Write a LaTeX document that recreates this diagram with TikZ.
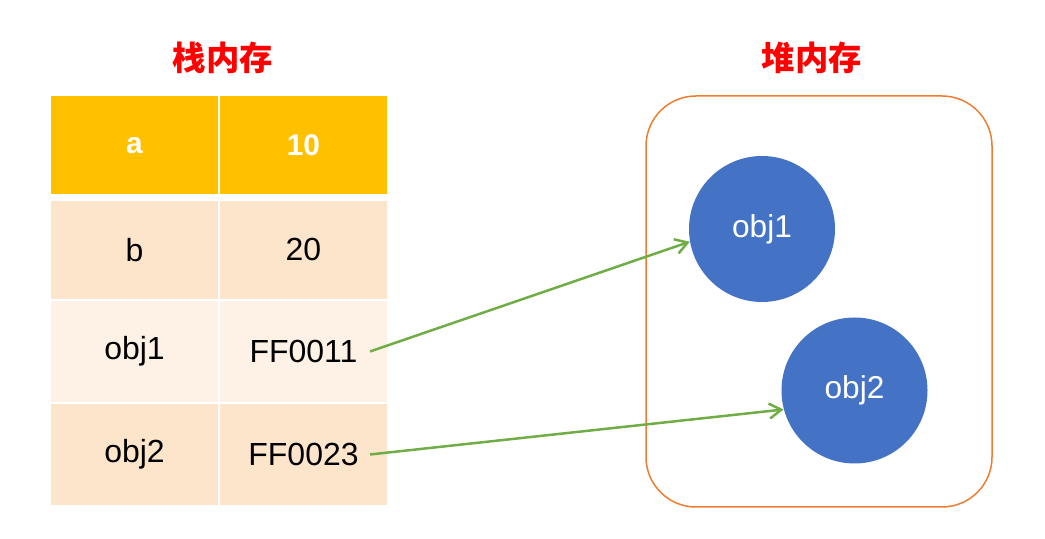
\documentclass[tikz,border=0pt]{standalone}
\usepackage{fontspec}
\setmainfont{Liberation Sans}
\newfontfamily\cjk{Noto Sans CJK SC}
\usetikzlibrary{arrows.meta}
\definecolor{gold}{HTML}{FFC000}
\definecolor{peach}{HTML}{FDE5CC}
\definecolor{cream}{HTML}{FEF2E6}
\definecolor{heapline}{HTML}{ED7D31}
\definecolor{objblue}{HTML}{4472C4}
\definecolor{refgreen}{HTML}{70AD47}

\begin{document}
\begin{tikzpicture}[
        cell/.style={draw=white, line width=0.04cm, minimum width=3.38cm, inner sep=0, font=\fontsize{18.2}{22}\selectfont},
        title/.style={red, font=\cjk\bfseries\fontsize{19}{23}\selectfont},
        obj/.style={circle, fill=objblue, text=white, minimum size=2.92cm, inner sep=0, font=\fontsize{18}{22}\selectfont},
        ref/.style={refgreen, line width=0.05cm, -{Straight Barb[length=0.24cm,width=0.3cm]}}
    ]
    \useasboundingbox (0,0) rectangle (20.9,10.78);

    % stack
    \node[title] (stacktitle) at (4.46,9.62) {栈内存};
    \node[cell, fill=gold, minimum height=2cm, text=white, font=\bfseries\fontsize{17}{20}\selectfont] (ka) at (2.69,7.87) {a};
    \node[cell, fill=gold, minimum height=2cm, text=white, font=\bfseries\fontsize{17}{20}\selectfont] (va) at (6.07,7.87) {10};
    \node[cell, fill=peach, minimum height=2cm] (kb) at (2.69,5.78) {b};
    \node[cell, fill=peach, minimum height=2cm] (vb) at (6.07,5.78) {20};
    \node[cell, fill=cream, minimum height=2.06cm] (k1) at (2.69,3.75) {obj1};
    \node[cell, fill=cream, minimum height=2.06cm] (p1) at (6.07,3.75) {FF0011};
    \node[cell, fill=peach, minimum height=2.06cm] (k2) at (2.69,1.69) {obj2};
    \node[cell, fill=peach, minimum height=2.06cm] (p2) at (6.07,1.69) {FF0023};

    % heap
    \node[title] (heaptitle) at (16.24,9.62) {堆内存};
    \draw[heapline, line width=0.03cm, rounded corners=1cm] (12.92,0.64) rectangle (19.84,8.86);
    \node[obj] (o1) at (15.24,6.2) {obj1};
    \node[obj] (o2) at (17.09,2.97) {obj2};

    \draw[ref] ([xshift=-0.38cm]p1.east) -- (o1.190);
    \draw[ref] ([xshift=-0.38cm]p2.east) -- (o2.195);
\end{tikzpicture}
\end{document}
